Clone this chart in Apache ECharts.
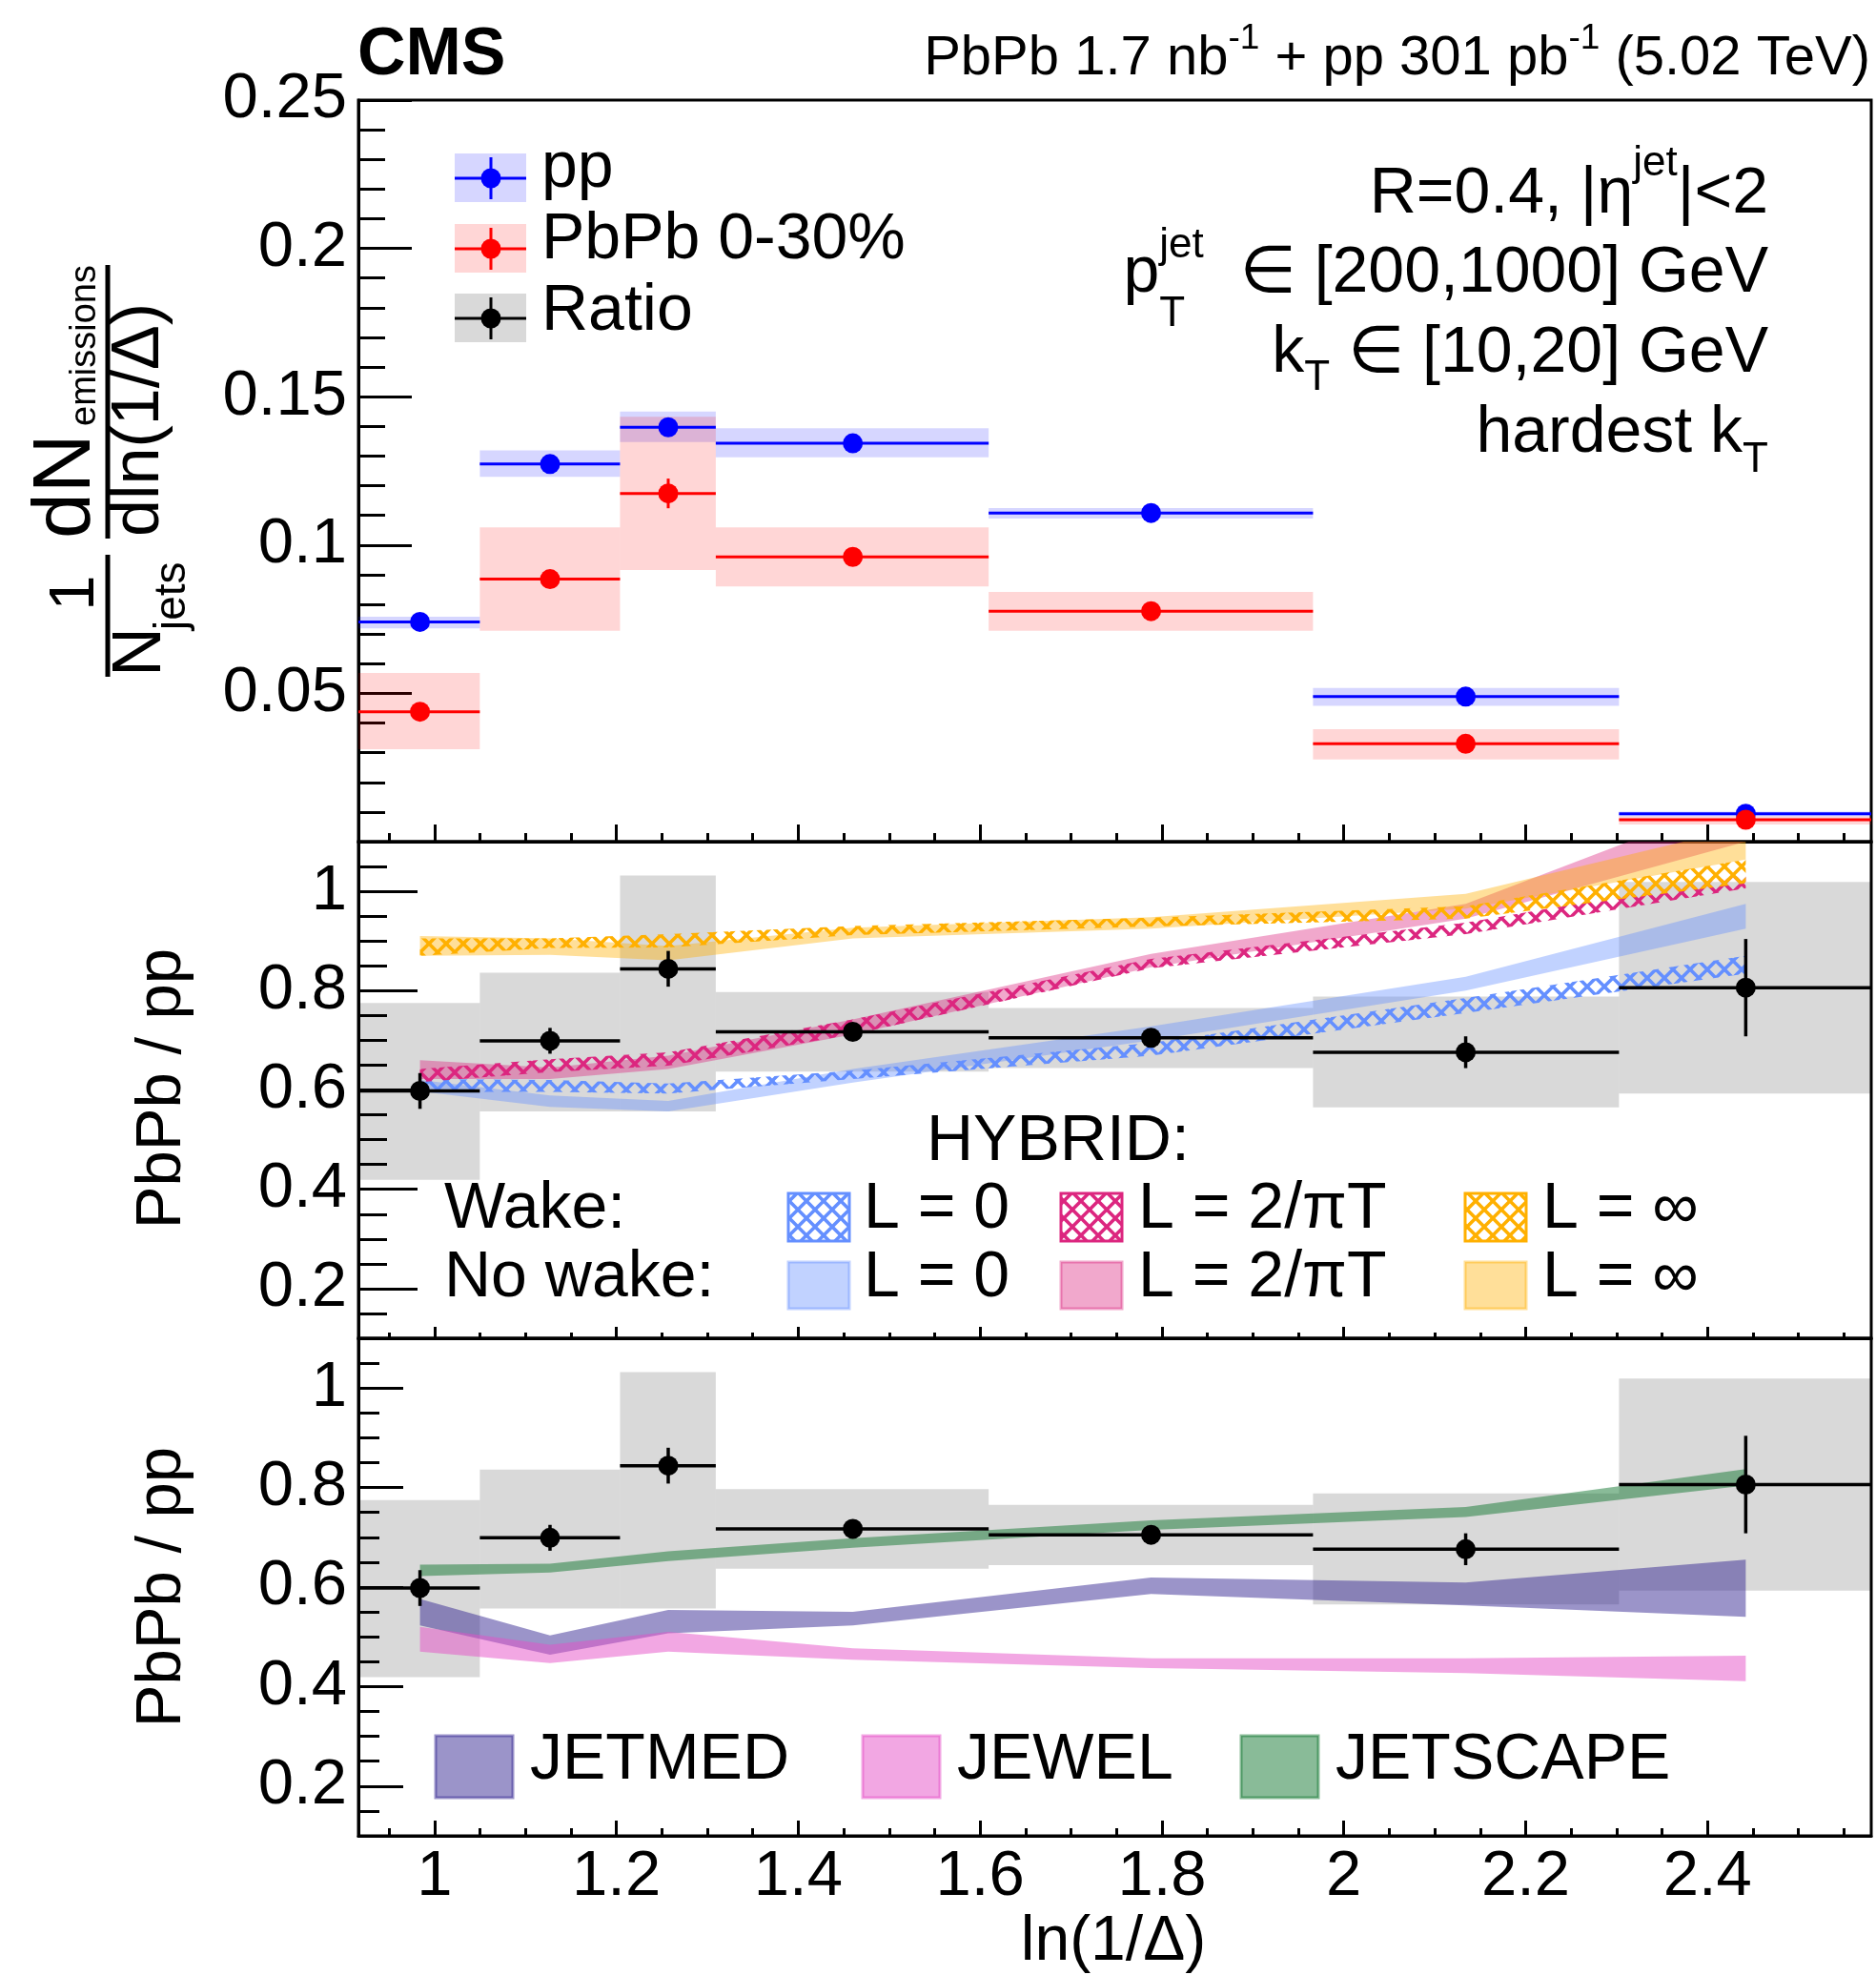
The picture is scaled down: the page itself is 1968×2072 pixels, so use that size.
<!DOCTYPE html>
<html>
<head>
<meta charset="utf-8">
<script src="https://cdn.jsdelivr.net/npm/echarts@6/dist/echarts.min.js"></script>
<style>
html, body { margin: 0; padding: 0; background: #fff; }
#chart { width: 1968px; height: 2072px; }
</style>
</head>
<body>
<div id="chart"></div>
<script>
// ---------------- data ----------------
// bin edges in ln(1/Delta) and the mean position of each bin
const binEdges = [0.9163, 1.0498, 1.2040, 1.3093, 1.6094, 1.9661, 2.3026, 2.5903];
const binMeans = [0.984, 1.127, 1.257, 1.460, 1.788, 2.134, 2.442];

// pp spectrum
const ppValue   = [0.0741, 0.1273, 0.1397, 0.1343, 0.1108, 0.0489, 0.0094];
const ppStat    = [0.0008, 0.0008, 0.0010, 0.0008, 0.0007, 0.0005, 0.0003];
const ppSysLow  = [0.0719, 0.1230, 0.1347, 0.1296, 0.1089, 0.0458, 0.0085];
const ppSysHigh = [0.0758, 0.1319, 0.1450, 0.1394, 0.1125, 0.0518, 0.0101];

// PbPb 0-30% spectrum
const pbValue   = [0.0438, 0.0885, 0.1174, 0.0960, 0.0777, 0.0330, 0.0074];
const pbStat    = [0.0030, 0.0030, 0.0050, 0.0020, 0.0020, 0.0015, 0.0008];
const pbSysLow  = [0.0312, 0.0711, 0.0916, 0.0860, 0.0711, 0.0277, 0.0058];
const pbSysHigh = [0.0569, 0.1060, 0.1432, 0.1060, 0.0842, 0.0379, 0.0085];

// PbPb / pp ratio
const ratioValue   = [0.598, 0.699, 0.844, 0.717, 0.705, 0.676, 0.806];
const ratioStat    = [0.036, 0.026, 0.036, 0.015, 0.015, 0.032, 0.098];
const ratioSysLow  = [0.419, 0.557, 0.557, 0.637, 0.644, 0.565, 0.593];
const ratioSysHigh = [0.775, 0.836, 1.032, 0.797, 0.765, 0.788, 1.019];

// HYBRID model bands (lower / upper edge at each bin mean)
const hybWakeL0Low    = [0.596, 0.596, 0.593, 0.622, 0.669, 0.755, 0.834];
const hybWakeL0High   = [0.622, 0.620, 0.613, 0.639, 0.695, 0.785, 0.870];
const hybNoWakeL0Low  = [0.597, 0.566, 0.557, 0.615, 0.700, 0.800, 0.925];
const hybNoWakeL0High = [0.620, 0.589, 0.578, 0.642, 0.728, 0.828, 0.975];
const hybWakeL2Low    = [0.616, 0.636, 0.649, 0.712, 0.845, 0.914, 1.006];
const hybWakeL2High   = [0.642, 0.662, 0.676, 0.742, 0.864, 0.937, 1.033];
const hybNoWakeL2Low  = [0.622, 0.622, 0.642, 0.712, 0.847, 0.945, 1.100];
const hybNoWakeL2High = [0.660, 0.645, 0.669, 0.742, 0.874, 0.975, 1.190];
const hybWakeLinfLow    = [0.870, 0.886, 0.887, 0.912, 0.929, 0.945, 1.016];
const hybWakeLinfHigh   = [0.905, 0.905, 0.914, 0.930, 0.947, 0.970, 1.064];
const hybNoWakeLinfLow  = [0.870, 0.872, 0.861, 0.905, 0.925, 0.965, 1.064];
const hybNoWakeLinfHigh = [0.910, 0.905, 0.890, 0.927, 0.948, 0.995, 1.130];

// other model bands
const jetmedLow     = [0.523, 0.464, 0.507, 0.523, 0.586, 0.563, 0.540];
const jetmedHigh    = [0.576, 0.503, 0.554, 0.550, 0.619, 0.609, 0.655];
const jewelLow      = [0.470, 0.447, 0.470, 0.454, 0.437, 0.427, 0.411];
const jewelHigh     = [0.520, 0.484, 0.510, 0.477, 0.457, 0.457, 0.462];
const jetscapeLow   = [0.622, 0.629, 0.652, 0.679, 0.715, 0.741, 0.804];
const jetscapeHigh  = [0.645, 0.647, 0.672, 0.698, 0.734, 0.761, 0.837];

// axis ticks and labels
const xMin = 0.9163, xMax = 2.58;
const xMajorTicks = [1.0, 1.2, 1.4, 1.6, 1.8, 2.0, 2.2, 2.4];
const xTickLabels = ['1', '1.2', '1.4', '1.6', '1.8', '2', '2.2', '2.4'];
const xMinorTicks = [0.95, 1.05, 1.1, 1.15, 1.25, 1.3, 1.35, 1.45, 1.5, 1.55, 1.65, 1.7, 1.75,
                     1.85, 1.9, 1.95, 2.05, 2.1, 2.15, 2.25, 2.3, 2.35, 2.45, 2.5, 2.55];
const specMajorTicks = [0.05, 0.1, 0.15, 0.2, 0.25];
const specTickLabels = ['0.05', '0.1', '0.15', '0.2', '0.25'];
const specMinorTicks = [0.01, 0.02, 0.03, 0.04, 0.06, 0.07, 0.08, 0.09, 0.11, 0.12, 0.13, 0.14,
                        0.16, 0.17, 0.18, 0.19, 0.21, 0.22, 0.23, 0.24];
const ratioMajorTicks = [0.2, 0.4, 0.6, 0.8, 1.0];
const ratioTickLabels = ['0.2', '0.4', '0.6', '0.8', '1'];
const ratioMinorTicks = [0.15, 0.25, 0.3, 0.35, 0.45, 0.5, 0.55, 0.65, 0.7, 0.75, 0.85, 0.9, 0.95, 1.05];

// ---------------- styling helpers ----------------
const FONT = '"Liberation Sans", Helvetica, Arial, "DejaVu Sans", sans-serif';
const C_PP = '#0000ff', C_PB = '#ff0000';
const C_L0 = '#648fff', C_L2 = '#dc267f', C_LINF = '#ffb000';
const F_L0 = 'rgba(100,143,255,0.4)', F_L2 = 'rgba(220,38,127,0.4)', F_LINF = 'rgba(255,176,0,0.4)';
const F_JETMED = 'rgba(56,42,148,0.5)', F_JEWEL = 'rgba(230,80,200,0.5)', F_JETSCAPE = 'rgba(20,120,50,0.5)';
const F_PP = 'rgba(0,0,255,0.16)', F_PB = 'rgba(255,0,0,0.16)', F_RATIO = 'rgba(0,0,0,0.15)';

// cross-hatch fill used for the "wake" bands
function hatch(color) {
  const s = 18;
  const c = document.createElement('canvas');
  c.width = s; c.height = s;
  const g = c.getContext('2d');
  g.strokeStyle = color; g.lineWidth = 3.6;
  g.beginPath();
  g.moveTo(-2, -2); g.lineTo(s + 2, s + 2);
  g.moveTo(-2, s + 2); g.lineTo(s + 2, -2);
  g.stroke();
  return { image: c, repeat: 'repeat' };
}
const H_L0 = hatch(C_L0), H_L2 = hatch(C_L2), H_LINF = hatch(C_LINF);

const measureCtx = document.createElement('canvas').getContext('2d');
function textW(t, size, weight) {
  measureCtx.font = (weight || 'normal') + ' ' + size + 'px ' + FONT;
  return measureCtx.measureText(t).width;
}
const MID = 0.34;
function textEl(t, x, base, size, opts) {
  opts = opts || {};
  return {
    type: 'text', x: x, y: base - MID * size, silent: true,
    style: { text: t, fontSize: size, fontFamily: FONT, fontWeight: opts.weight || 'normal',
             fill: opts.color || '#000', align: opts.align || 'left', verticalAlign: 'middle' }
  };
}
// a run of text pieces with sub/superscripts; "hold" pieces share x with the next piece
function richRun(pieces, x, base, align) {
  let adv = 0, held = 0;
  const xs = [];
  pieces.forEach(p => {
    const w = textW(p.t, p.s, p.weight);
    xs.push(adv);
    if (p.hold) { held = Math.max(held, w); }
    else { adv += Math.max(w, held); held = 0; }
  });
  const x0 = align === 'right' ? x - adv : x;
  return pieces.map((p, i) => textEl(p.t, x0 + xs[i], base - (p.dy || 0), p.s, { weight: p.weight }));
}
function nearestIndex(arr, v) {
  let best = 0;
  arr.forEach((a, i) => { if (Math.abs(a - v) < Math.abs(arr[best] - v)) best = i; });
  return best;
}

// ---------------- axes ----------------
const gridBoxes = [
  { left: 376, top: 105, width: 1587, height: 778 },
  { left: 376, top: 883, width: 1587, height: 521 },
  { left: 376, top: 1404, width: 1587, height: 522 }
];
const xTickLen = [[18, 9], [12, 6], [16, 8]];
const yTickLen = [[56, 28], [62, 30], [47, 22]];
const yRange = [[0, 0.25], [0.1, 1.1], [0.1, 1.1]];

const grid = gridBoxes.map(b => Object.assign({ show: true, borderColor: '#000', borderWidth: 3,
  backgroundColor: 'transparent', containLabel: false }, b));

const xAxis = [], yAxis = [];
for (let g = 0; g < 3; g++) {
  const common = { gridIndex: g, type: 'value', min: xMin, max: xMax, position: 'bottom', splitLine: { show: false } };
  xAxis.push(Object.assign({}, common, {
    axisLine: { show: true, onZero: false, lineStyle: { color: '#000', width: 3 } },
    axisTick: { show: true, inside: true, length: xTickLen[g][0], customValues: xMajorTicks, lineStyle: { color: '#000', width: 3 } },
    axisLabel: { show: g === 2, customValues: xMajorTicks, formatter: v => xTickLabels[nearestIndex(xMajorTicks, v)],
                 fontSize: 67, fontFamily: FONT, color: '#000', margin: 10 }
  }));
  xAxis.push(Object.assign({}, common, {
    axisLine: { show: false, onZero: false },
    axisTick: { show: true, inside: true, length: xTickLen[g][1], customValues: xMinorTicks, lineStyle: { color: '#000', width: 3 } },
    axisLabel: { show: false }
  }));
  const major = g === 0 ? specMajorTicks : ratioMajorTicks;
  const minor = g === 0 ? specMinorTicks : ratioMinorTicks;
  const labels = g === 0 ? specTickLabels : ratioTickLabels;
  const ycommon = { gridIndex: g, type: 'value', min: yRange[g][0], max: yRange[g][1], position: 'left', splitLine: { show: false } };
  yAxis.push(Object.assign({}, ycommon, {
    axisLine: { show: true, onZero: false, lineStyle: { color: '#000', width: 3 } },
    axisTick: { show: true, inside: true, length: yTickLen[g][0], customValues: major, lineStyle: { color: '#000', width: 3 } },
    axisLabel: { show: true, customValues: major, formatter: v => labels[nearestIndex(major, v)],
                 fontSize: 67, fontFamily: FONT, color: '#000', margin: 12 }
  }));
  yAxis.push(Object.assign({}, ycommon, {
    axisLine: { show: false, onZero: false },
    axisTick: { show: true, inside: true, length: yTickLen[g][1], customValues: minor, lineStyle: { color: '#000', width: 3 } },
    axisLabel: { show: false }
  }));
}

// ---------------- series builders ----------------
function boxSeries(g, lows, highs, fill, z) {
  return {
    type: 'custom', xAxisIndex: 2 * g, yAxisIndex: 2 * g, clip: true, silent: true, z: z,
    data: binMeans.map((_, i) => [binEdges[i], binEdges[i + 1], lows[i], highs[i]]),
    renderItem: (params, api) => {
      const a = api.coord([api.value(0), api.value(3)]);
      const b = api.coord([api.value(1), api.value(2)]);
      return { type: 'rect', shape: { x: a[0], y: a[1], width: b[0] - a[0], height: b[1] - a[1] }, style: { fill: fill } };
    }
  };
}
function bandSeries(g, lows, highs, fill, z) {
  return {
    type: 'custom', xAxisIndex: 2 * g, yAxisIndex: 2 * g, clip: true, silent: true, z: z,
    data: binMeans.map((x, i) => [x, lows[i], highs[i]]),
    renderItem: (params, api) => {
      if (params.dataIndex !== 0) return null;
      const pts = [];
      for (let i = 0; i < binMeans.length; i++) pts.push(api.coord([binMeans[i], highs[i]]));
      for (let i = binMeans.length - 1; i >= 0; i--) pts.push(api.coord([binMeans[i], lows[i]]));
      return { type: 'polygon', shape: { points: pts }, style: { fill: fill } };
    }
  };
}
function errSeries(g, vals, errs, color, lw, z) {
  return {
    type: 'custom', xAxisIndex: 2 * g, yAxisIndex: 2 * g, clip: true, silent: true, z: z,
    data: binMeans.map((x, i) => [x, vals[i], binEdges[i], binEdges[i + 1], errs[i]]),
    renderItem: (params, api) => {
      const y = api.value(1), e = api.value(4);
      const l = api.coord([api.value(2), y]), r = api.coord([api.value(3), y]);
      const t = api.coord([api.value(0), y + e]), b = api.coord([api.value(0), y - e]);
      return { type: 'group', children: [
        { type: 'line', shape: { x1: l[0], y1: l[1], x2: r[0], y2: r[1] }, style: { stroke: color, lineWidth: lw } },
        { type: 'line', shape: { x1: t[0], y1: t[1], x2: b[0], y2: b[1] }, style: { stroke: color, lineWidth: lw } }
      ] };
    }
  };
}
function markerSeries(g, vals, color, z) {
  return {
    type: 'scatter', xAxisIndex: 2 * g, yAxisIndex: 2 * g, silent: true, z: z,
    symbol: 'circle', symbolSize: 21, itemStyle: { color: color, opacity: 1 },
    data: binMeans.map((x, i) => [x, vals[i]])
  };
}

const series = [
  // spectra
  boxSeries(0, ppSysLow, ppSysHigh, F_PP, 1),
  boxSeries(0, pbSysLow, pbSysHigh, F_PB, 1),
  errSeries(0, ppValue, ppStat, C_PP, 3, 5),
  markerSeries(0, ppValue, C_PP, 6),
  errSeries(0, pbValue, pbStat, C_PB, 3, 7),
  markerSeries(0, pbValue, C_PB, 8),
  // ratio with HYBRID
  boxSeries(1, ratioSysLow, ratioSysHigh, F_RATIO, 1),
  bandSeries(1, hybNoWakeL0Low, hybNoWakeL0High, F_L0, 2),
  bandSeries(1, hybNoWakeL2Low, hybNoWakeL2High, F_L2, 2),
  bandSeries(1, hybNoWakeLinfLow, hybNoWakeLinfHigh, F_LINF, 2),
  bandSeries(1, hybWakeL0Low, hybWakeL0High, H_L0, 3),
  bandSeries(1, hybWakeL2Low, hybWakeL2High, H_L2, 3),
  bandSeries(1, hybWakeLinfLow, hybWakeLinfHigh, H_LINF, 3),
  errSeries(1, ratioValue, ratioStat, '#000', 3.5, 5),
  markerSeries(1, ratioValue, '#000', 6),
  // ratio with JETMED / JEWEL / JETSCAPE
  boxSeries(2, ratioSysLow, ratioSysHigh, F_RATIO, 1),
  bandSeries(2, jetmedLow, jetmedHigh, F_JETMED, 2),
  bandSeries(2, jewelLow, jewelHigh, F_JEWEL, 2),
  bandSeries(2, jetscapeLow, jetscapeHigh, F_JETSCAPE, 2),
  errSeries(2, ratioValue, ratioStat, '#000', 3.5, 5),
  markerSeries(2, ratioValue, '#000', 6)
];

// ---------------- texts and legends ----------------
const graphics = [];
function push(arr) { arr.forEach(e => graphics.push(e)); }

// header
graphics.push(textEl('CMS', 375, 83, 70, { weight: 'bold' }));
push(richRun([
  { t: 'PbPb 1.7 nb', s: 58 }, { t: '-1', s: 37, dy: 29 },
  { t: ' + pp 301 pb', s: 58 }, { t: '-1', s: 37, dy: 29 },
  { t: ' (5.02 TeV)', s: 58 }
], 1962, 82, 'right'));

// selection text
push(richRun([{ t: 'R=0.4, |η', s: 68 }, { t: 'jet', s: 44, dy: 40 }, { t: '|<2', s: 68 }], 1855, 227, 'right'));
push(richRun([{ t: 'p', s: 68 }, { t: 'jet', s: 44, dy: 37, hold: true }, { t: 'T', s: 44, dy: -35 },
              { t: '  ∈ [200,1000] GeV', s: 68 }], 1855, 310, 'right'));
push(richRun([{ t: 'k', s: 68 }, { t: 'T', s: 44, dy: -18 }, { t: ' ∈ [10,20] GeV', s: 68 }], 1855, 394, 'right'));
push(richRun([{ t: 'hardest k', s: 68 }, { t: 'T', s: 44, dy: -20 }], 1855, 478, 'right'));

// data legend
function dataLegend(yc, color, fill, label, base) {
  graphics.push({ type: 'rect', silent: true, shape: { x: 477, y: yc - 26, width: 75, height: 51 }, style: { fill: fill } });
  graphics.push({ type: 'line', silent: true, shape: { x1: 477, y1: yc, x2: 552, y2: yc }, style: { stroke: color, lineWidth: 3 } });
  graphics.push({ type: 'line', silent: true, shape: { x1: 515, y1: yc - 22, x2: 515, y2: yc + 22 }, style: { stroke: color, lineWidth: 3 } });
  graphics.push({ type: 'circle', silent: true, shape: { cx: 515, cy: yc, r: 10.5 }, style: { fill: color } });
  graphics.push(textEl(label, 568, base, 68));
}
dataLegend(187, C_PP, F_PP, 'pp', 200);
dataLegend(261, C_PB, F_PB, 'PbPb 0-30%', 275);
dataLegend(334, '#000', F_RATIO, 'Ratio', 350);

// HYBRID legend
graphics.push(textEl('HYBRID:', 972, 1221, 68));
graphics.push(textEl('Wake:', 466, 1292, 68));
graphics.push(textEl('No wake:', 466, 1364, 68));
function hybLegend(x, textX, label, hatchFill, lineColor, solidFill) {
  graphics.push({ type: 'rect', silent: true, shape: { x: x, y: 1252, width: 64, height: 50 },
                  style: { fill: hatchFill, stroke: lineColor, lineWidth: 3 } });
  graphics.push({ type: 'rect', silent: true, shape: { x: x, y: 1324, width: 64, height: 49 },
                  style: { fill: solidFill, stroke: solidFill, lineWidth: 3 } });
  graphics.push(textEl(label, textX, 1292, 68));
  graphics.push(textEl(label, textX, 1364, 68));
}
hybLegend(827, 906, 'L = 0', H_L0, C_L0, F_L0);
hybLegend(1113, 1194, 'L = 2/πT', H_L2, C_L2, F_L2);
hybLegend(1537, 1618, 'L = ∞', H_LINF, C_LINF, F_LINF);

// other models legend
function modelLegend(x, textX, label, fill) {
  graphics.push({ type: 'rect', silent: true, shape: { x: x, y: 1821, width: 81, height: 65 },
                  style: { fill: fill, stroke: fill, lineWidth: 3 } });
  graphics.push(textEl(label, textX, 1870, 68));
}
modelLegend(457, 556, 'JETMED', F_JETMED);
modelLegend(905, 1004, 'JEWEL', F_JEWEL);
modelLegend(1302, 1401, 'JETSCAPE', F_JETSCAPE);

// x axis title
graphics.push(textEl('ln(1/Δ)', 1168, 2060, 66, { align: 'center' }));

// y axis title of the spectrum panel (rotated fraction)
graphics.push({
  type: 'group', x: 113, y: 495, rotation: Math.PI / 2, silent: true,
  children: [
    { type: 'line', shape: { x1: -215, y1: 0, x2: -87, y2: 0 }, style: { stroke: '#000', lineWidth: 5 } },
    textEl('1', -127, -11, 67, { align: 'center' }),
    textEl('N', -215, 60, 72),
    textEl('jets', -166, 84, 46),
    { type: 'line', shape: { x1: -70, y1: 0, x2: 217, y2: 0 }, style: { stroke: '#000', lineWidth: 5 } },
    textEl('dN', -70, -13, 86),
    textEl('emissions', 48, -11, 38),
    textEl('dln(1/Δ)', -68, 58, 70)
  ]
});
// y axis titles of the ratio panels
graphics.push({ type: 'group', x: 193, y: 1142, rotation: Math.PI / 2, silent: true,
  children: [textEl('PbPb / pp', 0, 0, 67, { align: 'center' })] });
graphics.push({ type: 'group', x: 193, y: 1665, rotation: Math.PI / 2, silent: true,
  children: [textEl('PbPb / pp', 0, 0, 67, { align: 'center' })] });

const chart = echarts.init(document.getElementById('chart'), null, { renderer: 'canvas', width: 1968, height: 2072 });
chart.setOption({
  animation: false,
  backgroundColor: '#fff',
  textStyle: { fontFamily: FONT },
  grid: grid,
  xAxis: xAxis,
  yAxis: yAxis,
  series: series,
  graphic: { elements: graphics }
});
</script>
</body>
</html>
